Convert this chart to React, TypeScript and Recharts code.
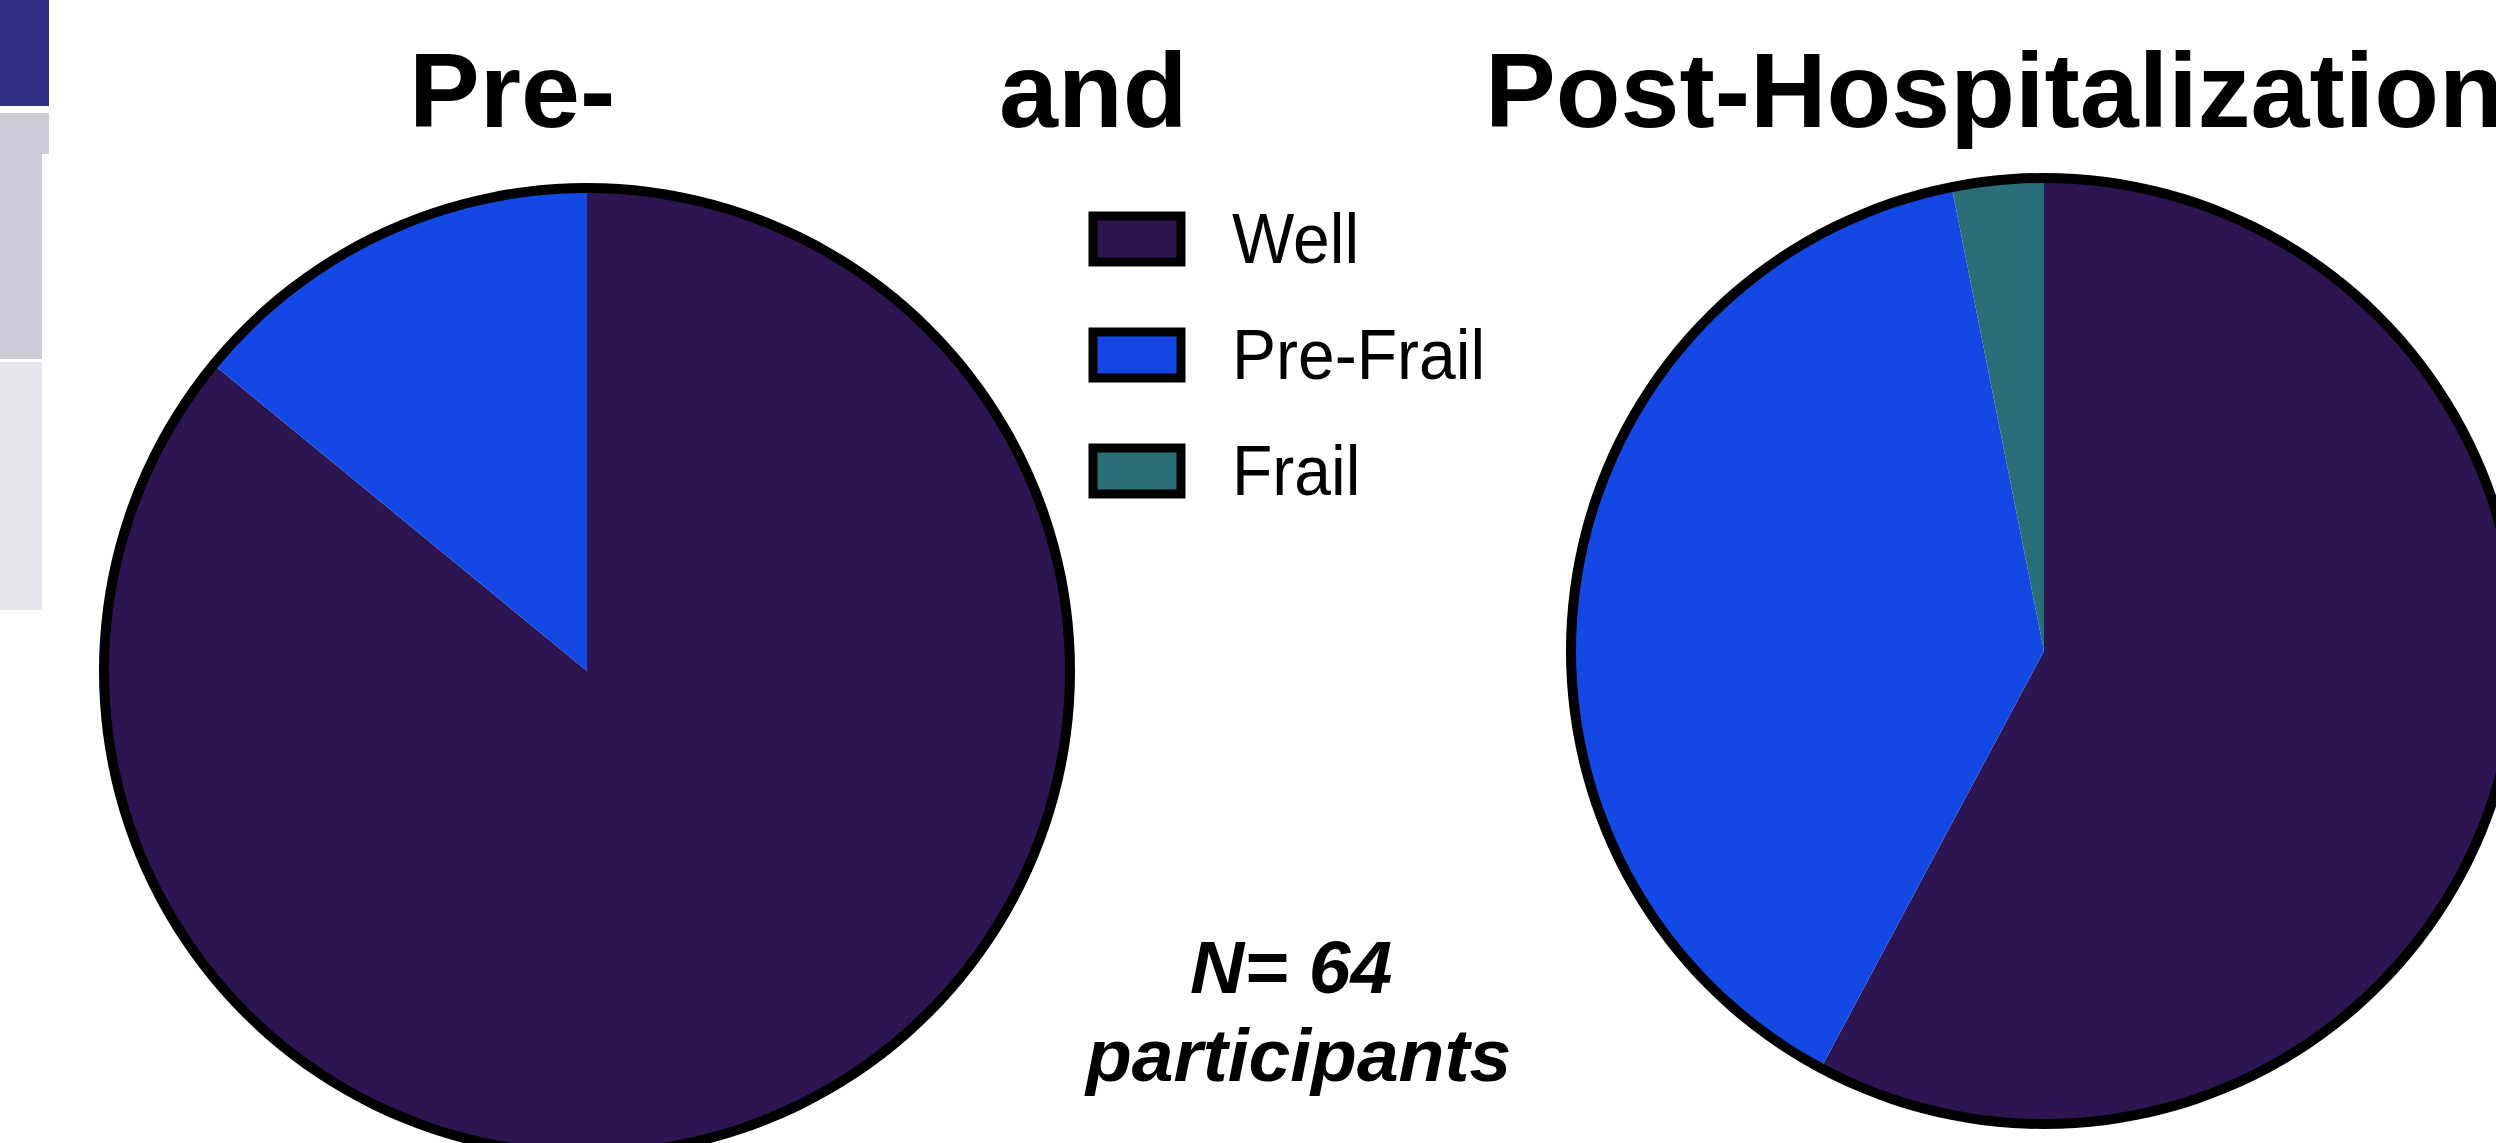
import React from 'react';
import { PieChart, Pie, Cell, Legend } from 'recharts';

// frailty status, counts out of 64 participants
const categories = ['Well', 'Pre-Frail', 'Frail'];
const preCounts = [55, 9, 0];
const postCounts = [37, 25, 2];
const colors = ['#2c1551', '#1348e4', '#2a6e78'];

const titleWords = ['Pre-', 'and', 'Post-Hospitalization'];
const noteLines = ['N= 64', 'participants'];

const W = 2496;
const H = 1143;
const FONT = '"Liberation Sans", Arial, Helvetica, sans-serif';

const preData = categories.map((name, i) => ({ name, value: preCounts[i] }));
const postData = categories.map((name, i) => ({ name, value: postCounts[i] }));
const ring = [{ name: 'outline', value: 1 }];

const pies = [
  { key: 'pre', data: preData, cx: 587, cy: 671, r: 488 },
  { key: 'post', data: postData, cx: 2044, cy: 651, r: 478 },
];

const titleX = [409, 999, 1485];

const LegendBox = () => (
  <svg width={460} height={320} style={{ overflow: 'visible' }}>
    {categories.map((name, i) => (
      <g key={name} transform={`translate(0, ${i * 116})`}>
        <rect x={9} y={13} width={88} height={46} fill={colors[i]} stroke="#000" strokeWidth={9} />
        <text
          x={148}
          y={60}
          fontFamily={FONT}
          fontSize={71}
          fill="#000"
          transform="translate(148 0) scale(0.93 1) translate(-148 0)"
        >
          {name}
        </text>
      </g>
    ))}
  </svg>
);

const App = () => {
  return (
    <div style={{ position: 'absolute', left: 0, top: 0, width: W, height: H, overflow: 'hidden', background: '#fff' }}>
      {/* slide remnants on the left edge */}
      <div style={{ position: 'absolute', left: 0, top: 0, width: 49, height: 106, background: '#2e2e84' }} />
      <div style={{ position: 'absolute', left: 0, top: 113, width: 49, height: 41, background: '#cdcdd9' }} />
      <div style={{ position: 'absolute', left: 0, top: 154, width: 42, height: 205, background: '#cdcdd9' }} />
      <div style={{ position: 'absolute', left: 0, top: 362, width: 42, height: 248, background: '#e6e5ec' }} />

      <PieChart width={W} height={H} margin={{ top: 0, right: 0, bottom: 0, left: 0 }}>
        {pies.map((p) => (
          <Pie
            key={p.key}
            data={p.data}
            dataKey="value"
            nameKey="name"
            cx={p.cx}
            cy={p.cy}
            outerRadius={p.r - 4}
            startAngle={90}
            endAngle={-270}
            stroke="none"
            isAnimationActive={false}
          >
            {p.data.map((d, i) => (
              <Cell key={d.name} fill={colors[i]} />
            ))}
          </Pie>
        ))}
        {pies.map((p) => (
          <Pie
            key={p.key + '-ring'}
            data={ring}
            dataKey="value"
            cx={p.cx}
            cy={p.cy}
            innerRadius={p.r - 10}
            outerRadius={p.r}
            startAngle={90}
            endAngle={-270}
            fill="#000"
            stroke="none"
            legendType="none"
            isAnimationActive={false}
          />
        ))}
        <Legend
          content={() => <LegendBox />}
          wrapperStyle={{ position: 'absolute', left: 1084, top: 203, width: 460, height: 320 }}
        />
      </PieChart>

      <svg width={W} height={H} style={{ position: 'absolute', left: 0, top: 0, pointerEvents: 'none' }}>
        {titleWords.map((w, i) => (
          <text key={w} x={titleX[i]} y={127} fontFamily={FONT} fontWeight="bold" fontSize={106} fill="#000">
            {w}
          </text>
        ))}
        <text x={1190} y={993} fontFamily={FONT} fontWeight="bold" fontStyle="italic" fontSize={75} fill="#000">
          {noteLines[0]}
        </text>
        <text x={1086} y={1081} fontFamily={FONT} fontWeight="bold" fontStyle="italic" fontSize={75} fill="#000">
          {noteLines[1]}
        </text>
      </svg>
    </div>
  );
};

export default App;
